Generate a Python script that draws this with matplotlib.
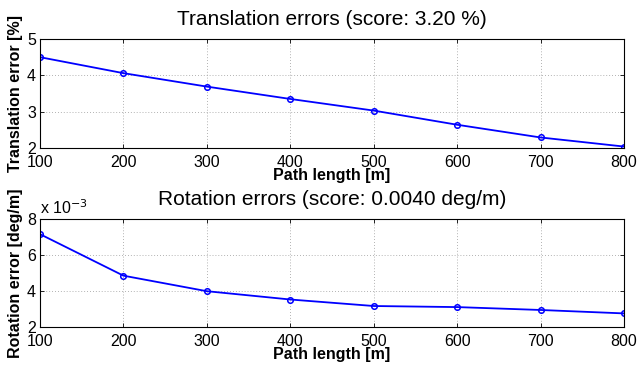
import matplotlib.pyplot as plt
from matplotlib.ticker import FuncFormatter

plt.rcParams['font.family'] = ['Liberation Sans', 'DejaVu Sans']

path_length = [100, 200, 300, 400, 500, 600, 700, 800]
trans_err = [4.50, 4.06, 3.69, 3.35, 3.03, 2.64, 2.29, 2.04]
rot_err = [0.00716, 0.00486, 0.00400, 0.00354, 0.00318, 0.00312, 0.00296, 0.00277]

fig = plt.figure(figsize=(6.39, 3.66), dpi=100, facecolor="white")
ax1 = fig.add_axes([0.0626, 0.5956, 0.914, 0.2978])
ax2 = fig.add_axes([0.0626, 0.1057, 0.914, 0.296])


def style(ax):
    ax.tick_params(direction="in", top=True, right=True, labelsize=11.5,
                   length=3, width=0.6, pad=3)
    ax.tick_params(axis="x", pad=5)
    ax.grid(True, linestyle=(0, (1, 2.5)), color="#999999", linewidth=0.6)
    for s in ax.spines.values():
        s.set_linewidth(0.8)
    ax.set_xlim(100, 800)
    ax.set_xticks(path_length)
    ax.set_xlabel("Path length [m]", fontsize=11.5, fontweight="bold", labelpad=-1.5)


ax1.plot(path_length, trans_err, color="blue", linewidth=1.3, marker="o",
         markersize=4, markerfacecolor="none", markeredgewidth=1.1)
style(ax1)
ax1.set_ylim(2, 5)
ax1.set_yticks([2, 3, 4, 5])
ax1.set_ylabel("Translation error [%]", fontsize=11.5, fontweight="bold", labelpad=3)
ax1.set_title("Translation errors (score: 3.20 %)", fontsize=15, pad=10)

ax2.plot(path_length, rot_err, color="blue", linewidth=1.3, marker="o",
         markersize=4, markerfacecolor="none", markeredgewidth=1.1)
style(ax2)
ax2.set_ylim(0.002, 0.008)
ax2.set_yticks([0.002, 0.004, 0.006, 0.008])
ax2.yaxis.set_major_formatter(FuncFormatter(lambda v, p: "%d" % round(v * 1e3)))
ax2.set_ylabel("Rotation error [deg/m]", fontsize=11.5, fontweight="bold", labelpad=3)
ax2.set_title("Rotation errors (score: 0.0040 deg/m)", fontsize=15, pad=10)
ax2.text(0.0, 1.02, "x 10$^{-3}$", transform=ax2.transAxes, fontsize=11.5,
         ha="left", va="bottom")

fig.savefig("out.png", dpi=100, facecolor="white")
